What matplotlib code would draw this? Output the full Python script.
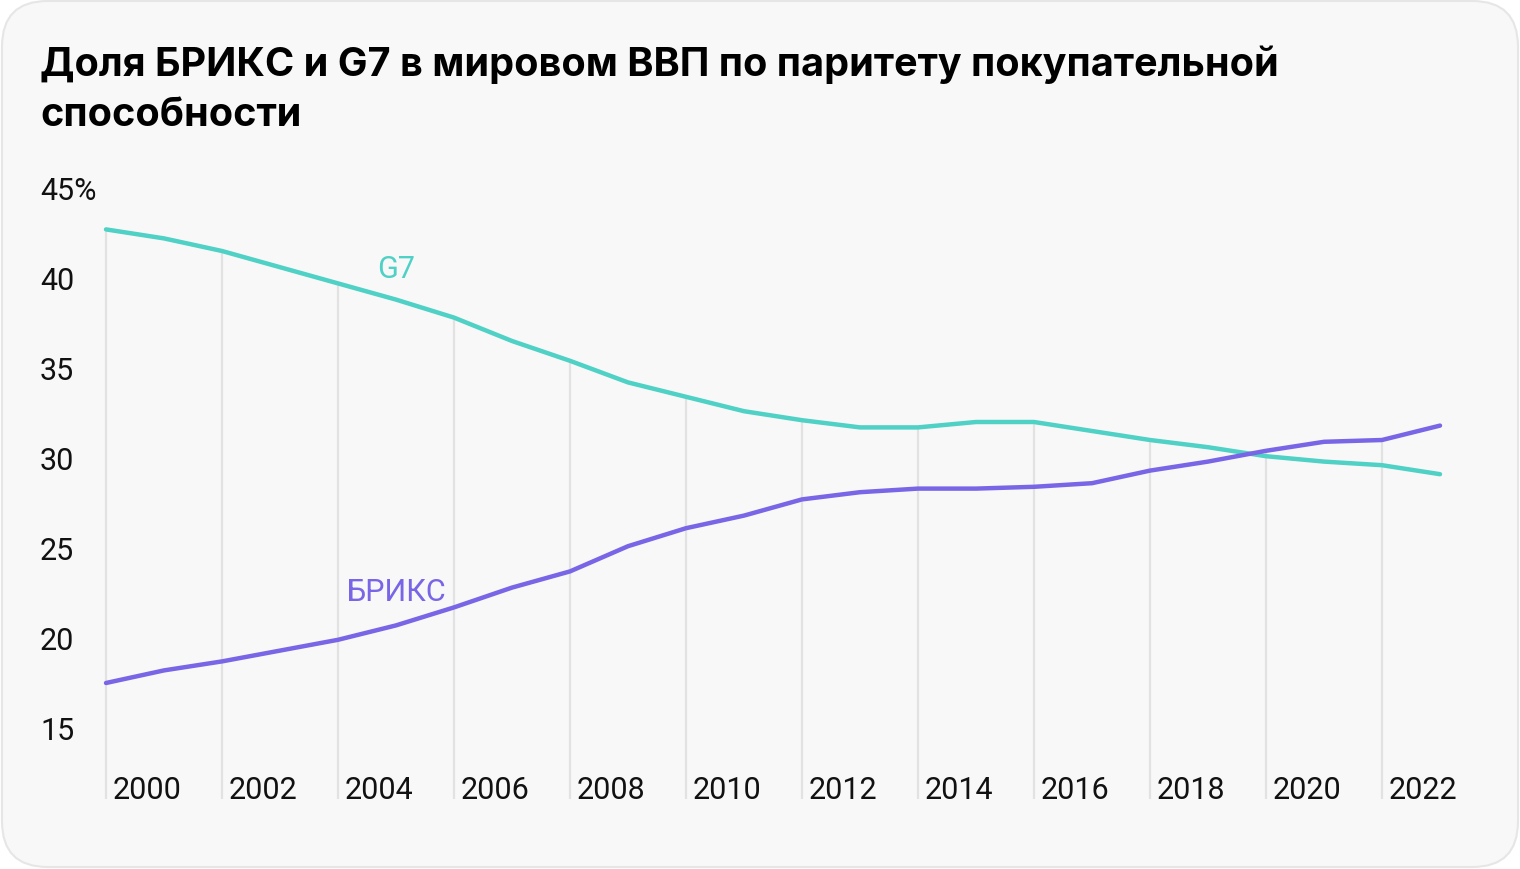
import matplotlib.pyplot as plt
import numpy as np
from matplotlib.patches import FancyBboxPatch

# --- DATA ---
YEARS = list(range(2000, 2024))
G7 = [42.7, 42.2, 41.5, 40.6, 39.7, 38.8, 37.8, 36.5, 35.4, 34.2, 33.4, 32.6,
      32.1, 31.7, 31.7, 32.0, 32.0, 31.5, 31.0, 30.6, 30.1, 29.8, 29.6, 29.1]
BRICS = [17.5, 18.2, 18.7, 19.3, 19.9, 20.7, 21.7, 22.8, 23.7, 25.1, 26.1, 26.8,
         27.7, 28.1, 28.3, 28.3, 28.4, 28.6, 29.3, 29.8, 30.4, 30.9, 31.0, 31.8]
Y_TICKS = [45, 40, 35, 30, 25, 20, 15]
Y_LABELS = ['45%', '40', '35', '30', '25', '20', '15']
X_TICKS = list(range(2000, 2023, 2))

TITLE_1 = 'Доля БРИКС и G7 в мировом ВВП по паритету покупательной'
TITLE_2 = 'способности'

C_G7 = '#4fd1c5'
C_BRICS = '#7866e6'
C_GRID = '#e2e2e2'

plt.rcParams['font.family'] = ['Roboto', 'DejaVu Sans']

W, H = 1520, 870
fig = plt.figure(figsize=(W / 100, H / 100), dpi=100)
fig.patch.set_facecolor('white')

# rounded card background (behind the axes)
card = FancyBboxPatch((2 / W, 2 / H), 1 - 4 / W, 1 - 4 / H,
                      boxstyle='round,pad=0,rounding_size=0.03',
                      transform=fig.transFigure, facecolor='#f8f8f8',
                      edgecolor='#e6e6e6', linewidth=1.5, zorder=-5,
                      mutation_aspect=W / H)
fig.patches.append(card)

# title
title_kw = dict(fontsize=28.5, fontweight='bold', family=['Inter', 'DejaVu Sans'],
                ha='left', va='baseline', color='black')
fig.text(40 / W, 1 - 76 / H, TITLE_1, **title_kw)
fig.text(40 / W, 1 - 126 / H, TITLE_2, **title_kw)

# axes placed in pixel space
ax = fig.add_axes([40 / W, 1 - 800 / H, 1440 / W, 650 / H])
ax.set_facecolor('none')
for s in ax.spines.values():
    s.set_visible(False)
ax.set_xticks([])
ax.set_yticks([])

px_year = 58.0
px_unit = 18.0
ax.set_xlim(2000 - 66 / px_year, 2023 + 40 / px_year)
ax.set_ylim(45 - (800 - 189) / px_unit, 45 + (189 - 150) / px_unit)
y_bottom = ax.get_ylim()[0]

# vertical grid lines from the upper series down to bottom
g7_arr = np.array(G7)
br_arr = np.array(BRICS)
tops = [max(g7_arr[y - 2000], br_arr[y - 2000]) for y in X_TICKS]
ax.vlines(X_TICKS, y_bottom, tops, color=C_GRID, lw=1.6, zorder=1)

ax.plot(YEARS, G7, color=C_G7, lw=3.2, solid_capstyle='round',
        solid_joinstyle='round', zorder=3, clip_on=False)
ax.plot(YEARS, BRICS, color=C_BRICS, lw=3.2, solid_capstyle='round',
        solid_joinstyle='round', zorder=4, clip_on=False)

ax.text(2005, 40.5, 'G7', color=C_G7, fontsize=22, ha='center', va='center')
ax.text(2005, 22.6, 'БРИКС', color=C_BRICS, fontsize=22, ha='center', va='center')

# y labels
for v, lab in zip(Y_TICKS, Y_LABELS):
    ax.text(0, v, lab, transform=ax.get_yaxis_transform(), ha='left',
            va='center_baseline', fontsize=22, color='#111111')

# x labels
for yr in X_TICKS:
    ax.text(yr + 7 / px_year, 0.002, str(yr), transform=ax.get_xaxis_transform(),
            ha='left', va='baseline', fontsize=22, color='#111111')

fig.savefig('out.png', dpi=100, facecolor=fig.get_facecolor())
